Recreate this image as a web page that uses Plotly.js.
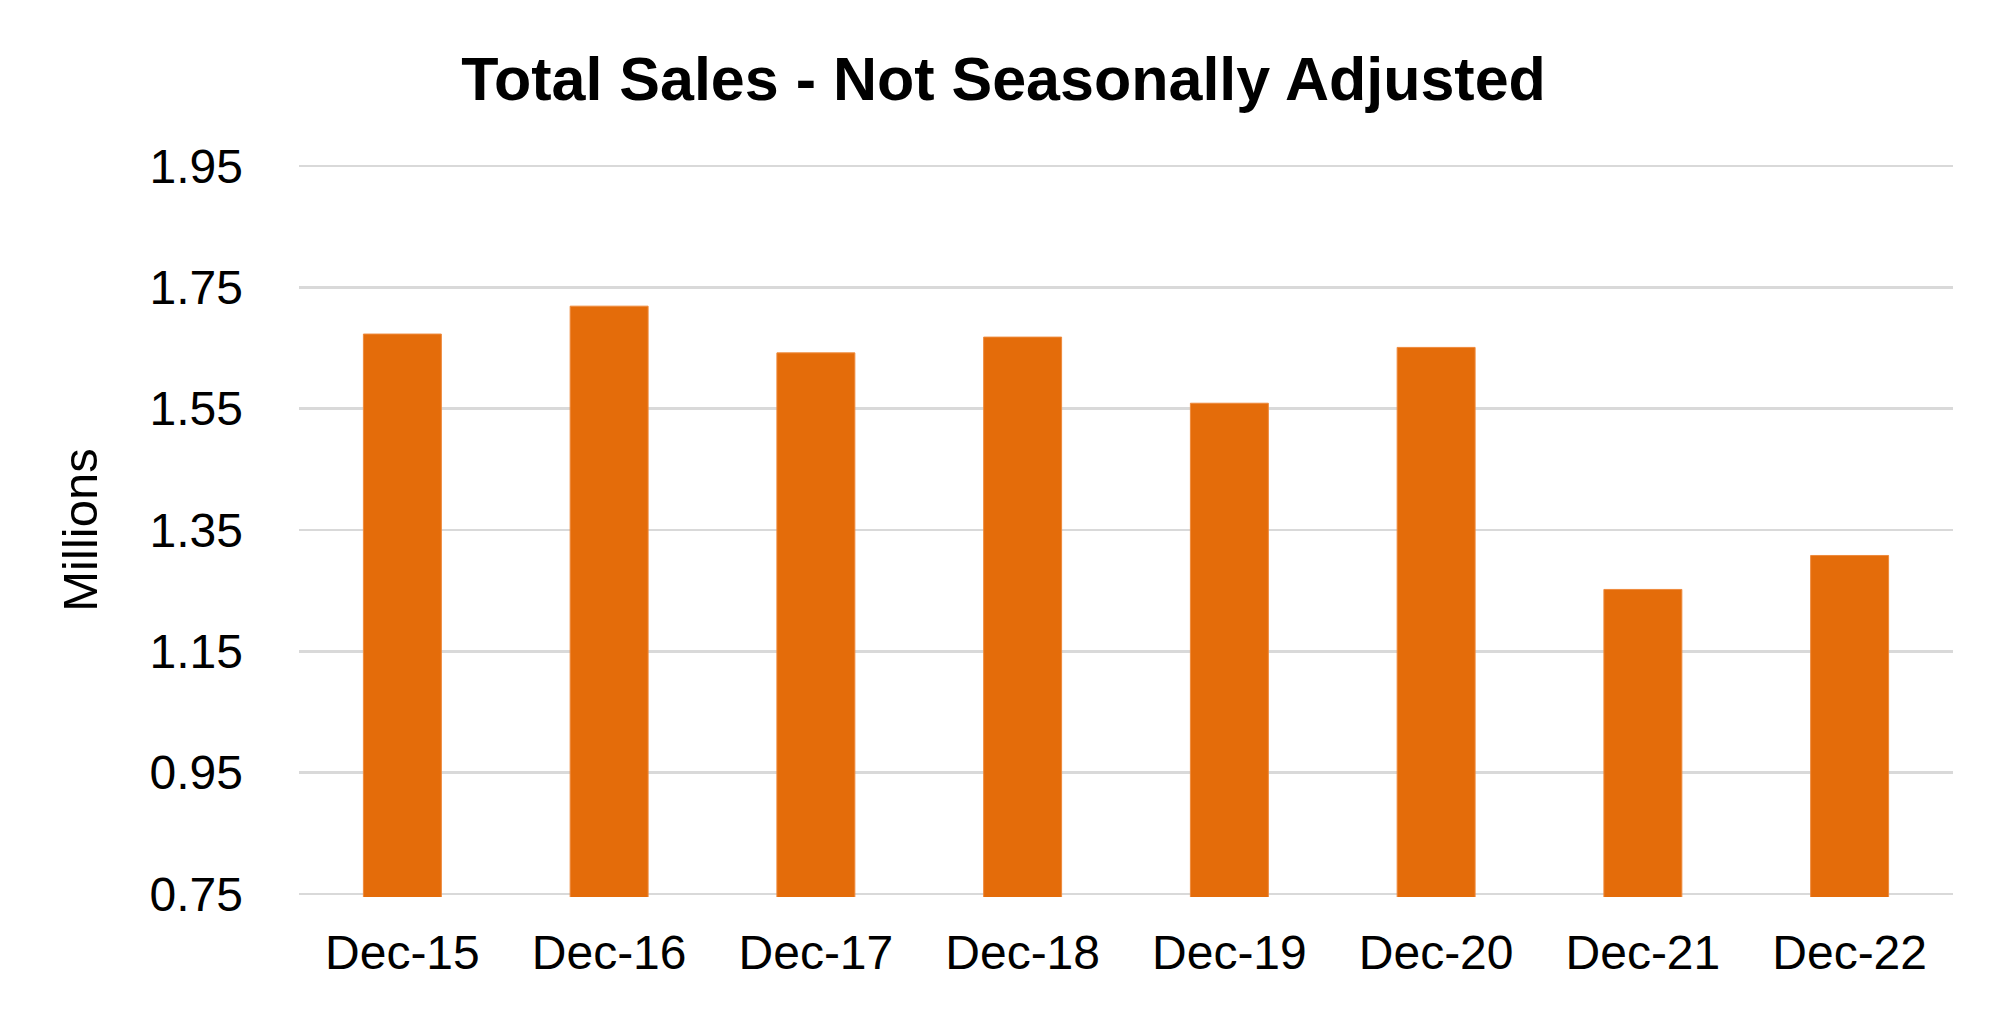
<!DOCTYPE html>
<html>
<head>
<meta charset="utf-8">
<script src="https://cdn.plot.ly/plotly-3.0.1.min.js"></script>
<style>html,body{margin:0;padding:0;background:#fff;}#chart{width:2007px;height:1017px;}</style>
</head>
<body>
<div id="chart"></div>
<script>
const categories = ["Dec-15", "Dec-16", "Dec-17", "Dec-18", "Dec-19", "Dec-20", "Dec-21", "Dec-22"];
const salesMillions = [1.673, 1.719, 1.642, 1.668, 1.559, 1.651, 1.252, 1.308];
const yTickValues = [0.75, 0.95, 1.15, 1.35, 1.55, 1.75, 1.95];
const yTickLabels = ["0.75", "0.95", "1.15", "1.35", "1.55", "1.75", "1.95"];

const FONT = "Liberation Sans, Arial, Helvetica, sans-serif";

const trace = {
  type: "bar",
  x: categories,
  y: salesMillions,
  base: 0,
  marker: { color: "#E46C0A", line: { color: "#EE8A3C", width: 1 } },
  hoverinfo: "x+y"
};

const layout = {
  width: 2007,
  height: 1017,
  paper_bgcolor: "#ffffff",
  plot_bgcolor: "#ffffff",
  margin: { l: 299, r: 54, t: 163, b: 120, pad: 0 },
  bargap: 0.623,
  showlegend: false,
  title: {
    text: "<b>Total Sales - Not Seasonally Adjusted</b>",
    font: { family: FONT, size: 61, color: "#000000" },
    x: 0.5, xref: "container", xanchor: "center",
    y: 0.923, yref: "container", yanchor: "middle"
  },
  xaxis: {
    type: "category",
    tickfont: { family: FONT, size: 48, color: "#000000" },
    showgrid: false,
    showline: false,
    zeroline: false,
    ticks: "",
    ticklabelstandoff: 23,
    automargin: false
  },
  yaxis: {
    range: [0.745, 1.955],
    tickvals: yTickValues,
    ticktext: yTickLabels,
    tickfont: { family: FONT, size: 48, color: "#000000" },
    showgrid: true,
    gridcolor: "#d9d9d9",
    gridwidth: 2.5,
    zeroline: false,
    showline: false,
    ticks: "",
    ticklabelstandoff: 55,
    automargin: false,
    title: {
      text: "Millions",
      font: { family: FONT, size: 49, color: "#000000" },
      standoff: 36
    }
  }
};

Plotly.newPlot("chart", [trace], layout, { displayModeBar: false, staticPlot: true });
</script>
</body>
</html>
